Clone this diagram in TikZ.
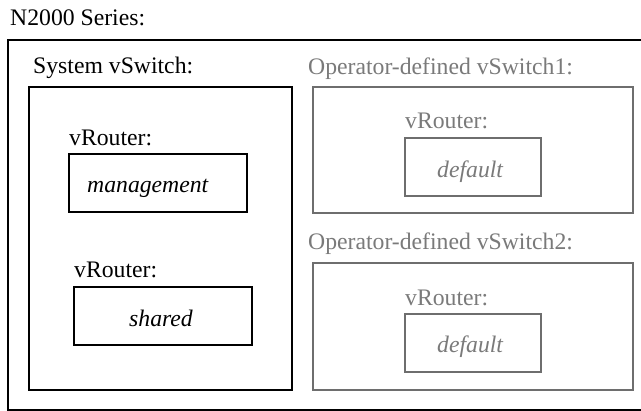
\documentclass[tikz,border=0pt]{standalone}
\usepackage{fontspec}
\setmainfont{Liberation Serif}
\definecolor{boxgray}{HTML}{6E6E6E}
\definecolor{txtgray}{HTML}{7A7A7A}
\begin{document}
\begin{tikzpicture}[x=1pt,y=-1pt,
  lbl/.style={anchor=base west,inner sep=0pt,font=\fontsize{23.7}{28}\selectfont},
  glbl/.style={lbl,text=txtgray},
  blkbox/.style={draw=black,line width=2pt,anchor=north west,inner sep=0pt,outer sep=0pt},
  grybox/.style={draw=boxgray,line width=2pt,anchor=north west,inner sep=0pt,outer sep=0pt}]
\useasboundingbox[fill=white] (0,0) rectangle (641,411);
% outer
\node[blkbox,minimum width=660pt,minimum height=370pt] (outer) at (8,40) {};
\node[lbl] (title) at (10,26) {N2000 Series:};
% system vswitch
\node[blkbox,minimum width=263pt,minimum height=303pt] (sys) at (29,87) {};
\node[lbl] (systitle) at (33,74) {System vSwitch:};
\node[lbl] (vr1) at (69,146) {vRouter:};
\node[blkbox,minimum width=178pt,minimum height=58pt] (mgmt) at (69,154) {};
\node[lbl,font=\fontsize{23.7}{28}\selectfont\itshape] (mgmttxt) at (87,193) {management};
\node[lbl] (vr2) at (74,278) {vRouter:};
\node[blkbox,minimum width=178pt,minimum height=58pt] (shared) at (74,287) {};
\node[lbl,font=\fontsize{23.7}{28}\selectfont\itshape] (sharedtxt) at (129,327) {shared};
% operator 1
\node[grybox,minimum width=320pt,minimum height=126pt] (op1) at (313,87) {};
\node[glbl] (op1title) at (308,75) {Operator-defined vSwitch1:};
\node[glbl] (vr3) at (405,129) {vRouter:};
\node[grybox,minimum width=136pt,minimum height=58pt] (def1) at (405,138) {};
\node[glbl,font=\fontsize{23.7}{28}\selectfont\itshape] (def1txt) at (437,178) {default};
% operator 2
\node[grybox,minimum width=320pt,minimum height=127pt] (op2) at (313,263) {};
\node[glbl] (op2title) at (308,250) {Operator-defined vSwitch2:};
\node[glbl] (vr4) at (405,306) {vRouter:};
\node[grybox,minimum width=136pt,minimum height=58pt] (def2) at (405,314) {};
\node[glbl,font=\fontsize{23.7}{28}\selectfont\itshape] (def2txt) at (437,353) {default};
\end{tikzpicture}
\end{document}
